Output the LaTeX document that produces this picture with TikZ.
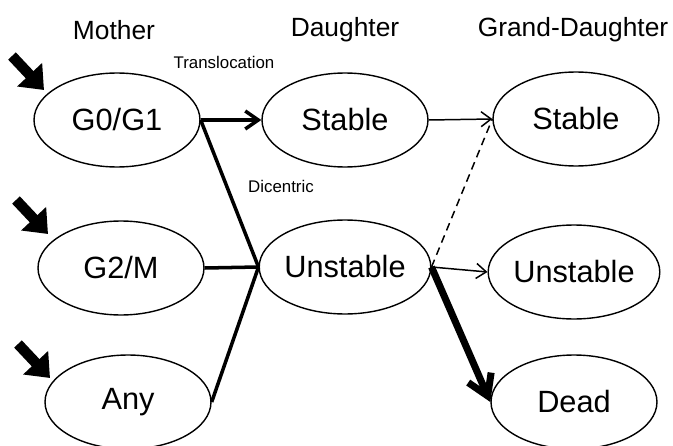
\documentclass[tikz,border=0pt]{standalone}
\usepackage{fontspec}
\setmainfont{Liberation Sans}
\usetikzlibrary{positioning, arrows.meta, shapes}

\begin{document}
\begin{tikzpicture}
        [x=0.02cm, y=-0.02cm,
         phase/.style={ellipse, draw, line width=0.8pt, minimum width=3.32cm, minimum height=1.88cm, inner sep=0pt, font=\fontsize{17.5}{20}\selectfont},
         header/.style={font=\fontsize{15}{18}\selectfont},
         smalltext/.style={font=\fontsize{9.6}{11}\selectfont},
         fat/.style={line width=2pt},
         thin/.style={line width=0.85pt},
         pointer/.style={line width=6pt, line cap=butt, -{Triangle[length=0.42cm, width=0.66cm]}},
         >={Straight Barb[length=2.6mm, width=3.6mm]}]
        \useasboundingbox (0,0) rectangle (673,446);

        \node[header] (M) at (114,30) {Mother};
        \node[header] (D) at (345,30) {Daughter};
        \node[header] (GD) at (573,30) {Grand-Daughter};

        \node[phase] (G0) at (117,120) {G0/G1};
        \node[phase] (G2) at (121,268) {G2/M};
        \node[phase] (Any) at (128,402) {Any};
        \node[phase] (S) at (345,120) {Stable};
        \node[phase] (U) at (345,267) {Unstable};
        \node[phase] (GS) at (576,119) {Stable};
        \node[phase] (GU) at (574,272) {Unstable};
        \node[phase] (Dead) at (574,402) {Dead};

        \node[smalltext] (tr) at (224,62) {Translocation};
        \node[smalltext] (dc) at (281,186) {Dicentric};

        \coordinate (p1) at (12,56);
        \coordinate (q1) at (44,90);
        \coordinate (p2) at (16,200);
        \coordinate (q2) at (48,234);
        \coordinate (p3) at (18,344);
        \coordinate (q3) at (50,378);
        \draw[pointer] (p1) -- (q1);
        \draw[pointer] (p2) -- (q2);
        \draw[pointer] (p3) -- (q3);

        \path [->, fat] (G0.east) edge (S.west);
        \path [fat] (G0.east) edge (U.west);
        \path [fat] (G2.east) edge (U.west);
        \path [fat] (Any.east) edge (U.west);
        \path [-{Straight Barb[length=2mm, width=3mm]}, thin] (S.east) edge (GS.west);
        \path [dash pattern=on 4.5pt off 3pt, thin] (U.east) edge (GS.west);
        \path [-{Straight Barb[length=2mm, width=3mm]}, thin] (U.east) edge (GU.west);
        \path [-{Straight Barb[length=4mm, width=5mm]}, line width=4pt] (U.east) edge (Dead.west);
    \end{tikzpicture}
\end{document}
